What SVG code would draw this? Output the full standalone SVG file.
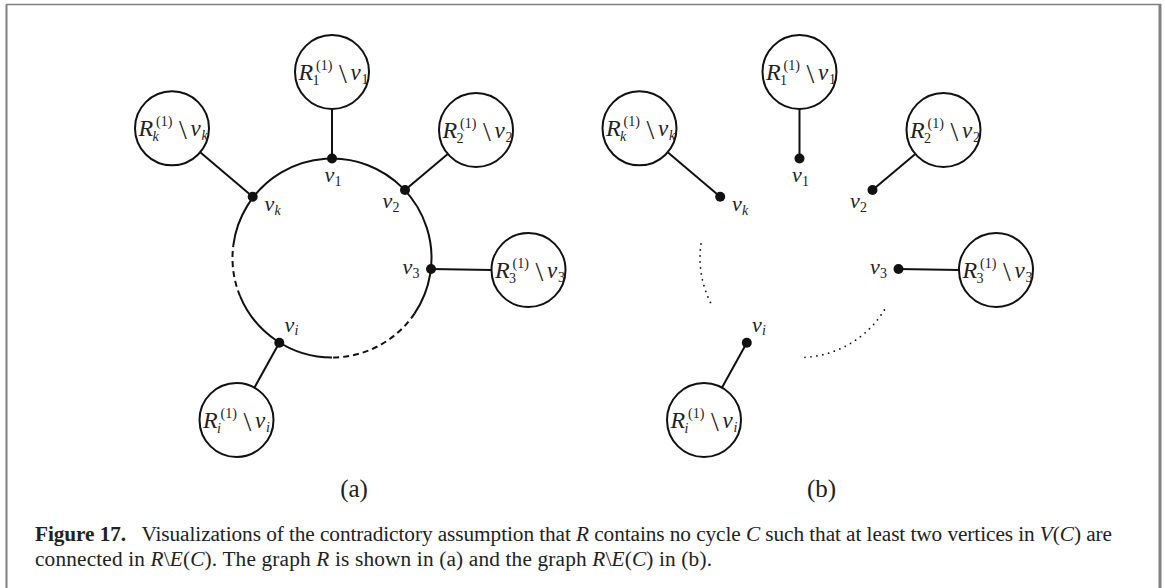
<svg xmlns="http://www.w3.org/2000/svg" width="1165" height="588" viewBox="0 0 1165 588">
<style>
.edge{stroke:#111;stroke-width:2;fill:none}
.node{stroke:#111;stroke-width:2;fill:#fff}
.dot{fill:#111}
.dash{stroke:#111;stroke-width:2;fill:none;stroke-dasharray:6 4}
.dotted{stroke:#111;stroke-width:1.8;fill:none;stroke-dasharray:0 6;stroke-linecap:round}
.m{font-family:"Liberation Serif","DejaVu Serif",serif;fill:#222}
.it{font-style:italic}
.big{font-size:24px}
.v{font-size:23px}
.sm{font-size:14px}
.vl{font-size:22px}
.bs{font-size:28px}
.cap{font-family:"Liberation Serif","DejaVu Serif",serif;font-size:21.3px;fill:#222}
</style>
<rect width="1165" height="588" fill="#fff"/>
<g id="frame" stroke="#808080" fill="none">
<line x1="6.5" y1="4.5" x2="6.5" y2="588" stroke-width="2"/>
<line x1="6" y1="4.5" x2="1161" y2="4.5" stroke-width="1.5"/>
<line x1="1160" y1="4" x2="1160" y2="588" stroke-width="3"/>
</g>

<!-- Panel (a) -->
<g id="connectors-a">
<path class="edge" d="M233.35,245.01 A99.5,99.5 0 1 1 414.49,313.64"/>
<path class="dash" d="M414.49,313.64 A99.5,99.5 0 0 1 332,357.5"/>
<path class="edge" d="M332,357.5 A99.5,99.5 0 0 1 240.07,296.08"/>
<path class="dash" d="M240.07,296.08 A99.5,99.5 0 0 1 233.35,245.01"/>
<line class="edge" x1="332" y1="158.5" x2="332" y2="108.7"/>
<line class="edge" x1="252.7" y1="196.7" x2="200.2" y2="152.2"/>
<line class="edge" x1="405" y1="190" x2="447.8" y2="153.9"/>
<line class="edge" x1="431" y1="269" x2="491.8" y2="270"/>
<line class="edge" x1="279.3" y1="342.7" x2="254.4" y2="387.7"/>
</g>

<g id="a-v1"><circle class="dot" cx="332" cy="158.5" r="5"/>
<text class="m"><tspan class="it vl" x="324.5" y="182">v</tspan><tspan class="sm" x="334.5" y="186">1</tspan></text></g>
<g id="a-vk"><circle class="dot" cx="252.7" cy="196.7" r="5"/>
<text class="m"><tspan class="it vl" x="264.5" y="211">v</tspan><tspan class="it sm" x="274.5" y="214.5">k</tspan></text></g>
<g id="a-v2"><circle class="dot" cx="405" cy="190" r="5"/>
<text class="m"><tspan class="it vl" x="382.5" y="208">v</tspan><tspan class="sm" x="392.5" y="212">2</tspan></text></g>
<g id="a-v3"><circle class="dot" cx="431" cy="269" r="5"/>
<text class="m"><tspan class="it vl" x="402.5" y="273.5">v</tspan><tspan class="sm" x="412.5" y="277.5">3</tspan></text></g>
<g id="a-vi"><circle class="dot" cx="279.3" cy="342.7" r="5"/>
<text class="m"><tspan class="it vl" x="284.5" y="331.5">v</tspan><tspan class="it sm" x="294.5" y="335">i</tspan></text></g>

<g id="a-R1"><circle class="node" cx="332" cy="72" r="37"/>
<text class="m"><tspan class="it big" x="298.5" y="79.5">R</tspan><tspan class="sm" x="316" y="69.5">(1)</tspan><tspan class="sm" x="312.5" y="85">1</tspan><tspan class="bs" x="339" y="83">\</tspan><tspan class="it v" x="350.5" y="79.5">v</tspan><tspan class="sm" x="361.5" y="83.5">1</tspan></text></g>
<g id="a-Rk"><circle class="node" cx="172" cy="128.3" r="37"/>
<text class="m"><tspan class="it big" x="138.5" y="135.8">R</tspan><tspan class="sm" x="156" y="125.8">(1)</tspan><tspan class="it sm" x="152.5" y="141.3">k</tspan><tspan class="bs" x="179" y="139.3">\</tspan><tspan class="it v" x="190.5" y="135.8">v</tspan><tspan class="it sm" x="201.5" y="139.8">k</tspan></text></g>
<g id="a-R2"><circle class="node" cx="476" cy="130" r="37"/>
<text class="m"><tspan class="it big" x="442.5" y="137.5">R</tspan><tspan class="sm" x="460" y="127.5">(1)</tspan><tspan class="sm" x="456.5" y="143">2</tspan><tspan class="bs" x="483" y="141">\</tspan><tspan class="it v" x="494.5" y="137.5">v</tspan><tspan class="sm" x="505.5" y="141.5">2</tspan></text></g>
<g id="a-R3"><circle class="node" cx="528.5" cy="270" r="37"/>
<text class="m"><tspan class="it big" x="495" y="277.5">R</tspan><tspan class="sm" x="512.5" y="267.5">(1)</tspan><tspan class="sm" x="509" y="283">3</tspan><tspan class="bs" x="535.5" y="281">\</tspan><tspan class="it v" x="547" y="277.5">v</tspan><tspan class="sm" x="558" y="281.5">3</tspan></text></g>
<g id="a-Ri"><circle class="node" cx="236.5" cy="420" r="37"/>
<text class="m"><tspan class="it big" x="203" y="427.5">R</tspan><tspan class="sm" x="220.5" y="417.5">(1)</tspan><tspan class="it sm" x="217" y="433">i</tspan><tspan class="bs" x="243.5" y="431">\</tspan><tspan class="it v" x="255" y="427.5">v</tspan><tspan class="it sm" x="266" y="431.5">i</tspan></text></g>

<text id="label-a" class="m" x="354" y="497" font-size="25" text-anchor="middle">(a)</text>

<!-- Panel (b) -->
<g id="connectors-b">
<path class="dotted" d="M710.45,302.40 A99.5,99.5 0 0 1 701.51,240.72"/>
<path class="dotted" d="M884.34,309.99 A99.5,99.5 0 0 1 799.5,357.5"/>
<line class="edge" x1="799.5" y1="158.5" x2="799.5" y2="108.7"/>
<line class="edge" x1="720.2" y1="196.7" x2="667.7" y2="152.2"/>
<line class="edge" x1="872.5" y1="190" x2="915.3" y2="153.9"/>
<line class="edge" x1="898.5" y1="269" x2="959.3" y2="270"/>
<line class="edge" x1="746.8" y1="342.7" x2="721.9" y2="387.7"/>
</g>

<g id="b-v1"><circle class="dot" cx="799.5" cy="158.5" r="5"/>
<text class="m"><tspan class="it vl" x="792" y="182">v</tspan><tspan class="sm" x="802" y="186">1</tspan></text></g>
<g id="b-vk"><circle class="dot" cx="720.2" cy="196.7" r="5"/>
<text class="m"><tspan class="it vl" x="732" y="211">v</tspan><tspan class="it sm" x="742" y="214.5">k</tspan></text></g>
<g id="b-v2"><circle class="dot" cx="872.5" cy="190" r="5"/>
<text class="m"><tspan class="it vl" x="850" y="208">v</tspan><tspan class="sm" x="860" y="212">2</tspan></text></g>
<g id="b-v3"><circle class="dot" cx="898.5" cy="269" r="5"/>
<text class="m"><tspan class="it vl" x="870" y="273.5">v</tspan><tspan class="sm" x="880" y="277.5">3</tspan></text></g>
<g id="b-vi"><circle class="dot" cx="746.8" cy="342.7" r="5"/>
<text class="m"><tspan class="it vl" x="752" y="331.5">v</tspan><tspan class="it sm" x="762" y="335">i</tspan></text></g>

<g id="b-R1"><circle class="node" cx="799.5" cy="72" r="37"/>
<text class="m"><tspan class="it big" x="766" y="79.5">R</tspan><tspan class="sm" x="783.5" y="69.5">(1)</tspan><tspan class="sm" x="780" y="85">1</tspan><tspan class="bs" x="806.5" y="83">\</tspan><tspan class="it v" x="818" y="79.5">v</tspan><tspan class="sm" x="829" y="83.5">1</tspan></text></g>
<g id="b-Rk"><circle class="node" cx="639.5" cy="128.3" r="37"/>
<text class="m"><tspan class="it big" x="606" y="135.8">R</tspan><tspan class="sm" x="623.5" y="125.8">(1)</tspan><tspan class="it sm" x="620" y="141.3">k</tspan><tspan class="bs" x="646.5" y="139.3">\</tspan><tspan class="it v" x="658" y="135.8">v</tspan><tspan class="it sm" x="669" y="139.8">k</tspan></text></g>
<g id="b-R2"><circle class="node" cx="943.5" cy="130" r="37"/>
<text class="m"><tspan class="it big" x="910" y="137.5">R</tspan><tspan class="sm" x="927.5" y="127.5">(1)</tspan><tspan class="sm" x="924" y="143">2</tspan><tspan class="bs" x="950.5" y="141">\</tspan><tspan class="it v" x="962" y="137.5">v</tspan><tspan class="sm" x="973" y="141.5">2</tspan></text></g>
<g id="b-R3"><circle class="node" cx="996" cy="270" r="37"/>
<text class="m"><tspan class="it big" x="962.5" y="277.5">R</tspan><tspan class="sm" x="980" y="267.5">(1)</tspan><tspan class="sm" x="976.5" y="283">3</tspan><tspan class="bs" x="1003" y="281">\</tspan><tspan class="it v" x="1014.5" y="277.5">v</tspan><tspan class="sm" x="1025.5" y="281.5">3</tspan></text></g>
<g id="b-Ri"><circle class="node" cx="704" cy="420" r="37"/>
<text class="m"><tspan class="it big" x="670.5" y="427.5">R</tspan><tspan class="sm" x="688" y="417.5">(1)</tspan><tspan class="it sm" x="684.5" y="433">i</tspan><tspan class="bs" x="711" y="431">\</tspan><tspan class="it v" x="722.5" y="427.5">v</tspan><tspan class="it sm" x="733.5" y="431.5">i</tspan></text></g>

<text id="label-b" class="m" x="821.5" y="497" font-size="25" text-anchor="middle">(b)</text>

<g id="caption">
<text class="cap" x="35" y="540.5" textLength="1077" lengthAdjust="spacing"><tspan font-weight="bold">Figure 17.</tspan>&#160;&#160; Visualizations of the contradictory assumption that <tspan font-style="italic">R</tspan> contains no cycle <tspan font-style="italic">C</tspan> such that at least two vertices in <tspan font-style="italic">V</tspan>(<tspan font-style="italic">C</tspan>) are</text>
<text class="cap" x="35" y="565.5" textLength="677" lengthAdjust="spacing">connected in <tspan font-style="italic">R</tspan>\<tspan font-style="italic">E</tspan>(<tspan font-style="italic">C</tspan>). The graph <tspan font-style="italic">R</tspan> is shown in (a) and the graph <tspan font-style="italic">R</tspan>\<tspan font-style="italic">E</tspan>(<tspan font-style="italic">C</tspan>) in (b).</text>
</g>
</svg>
